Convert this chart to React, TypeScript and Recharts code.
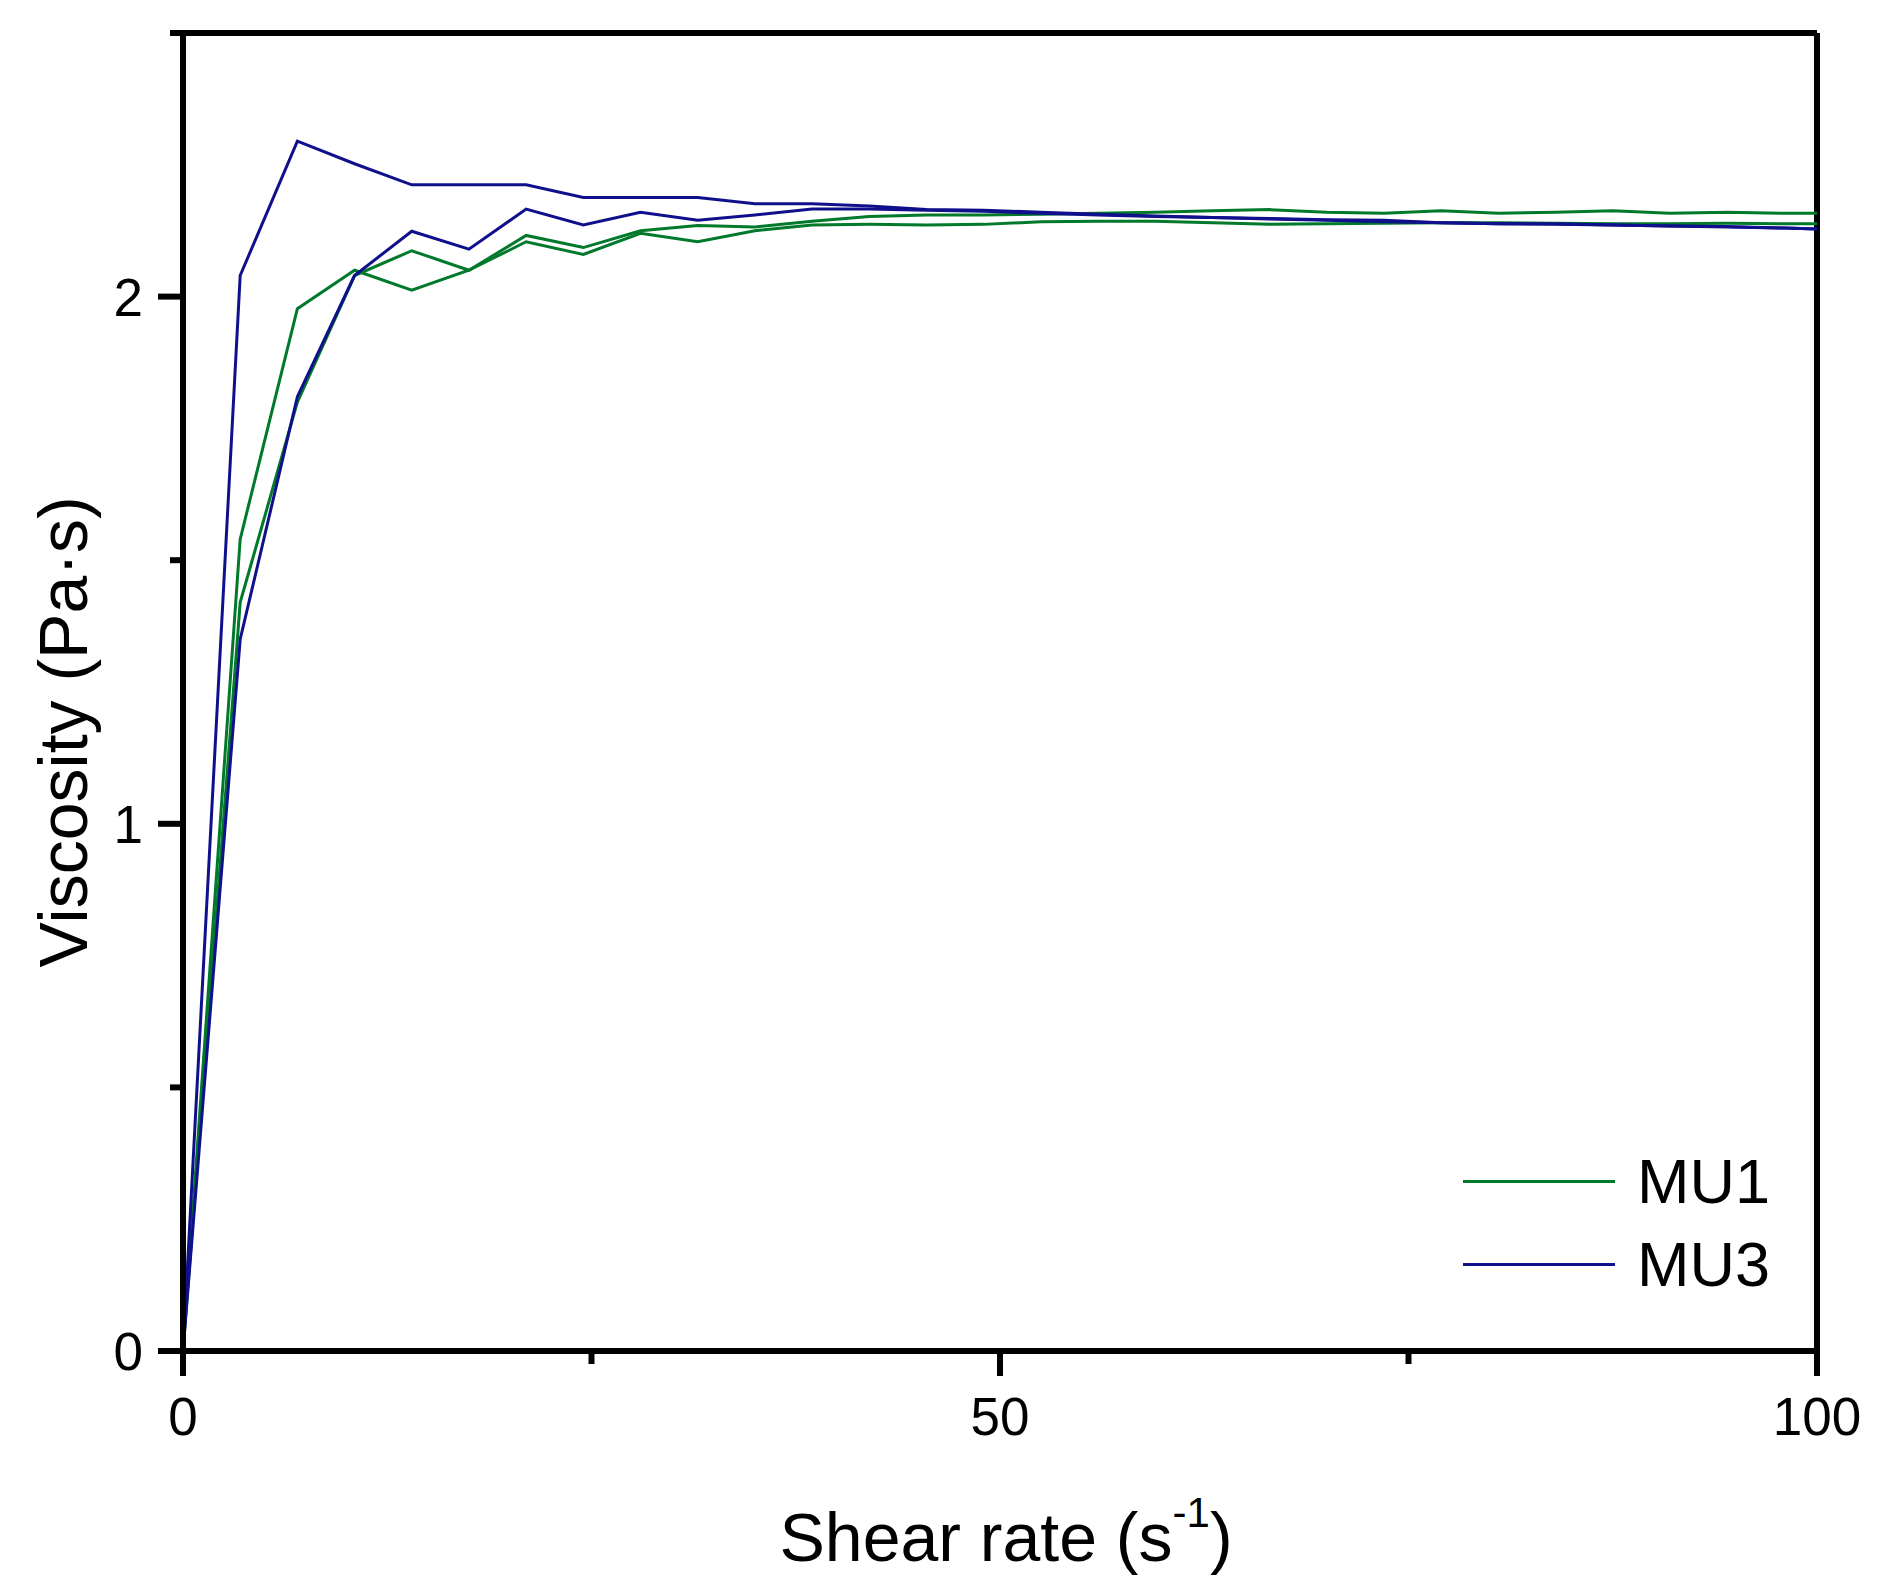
import { LineChart, Line, XAxis, YAxis, ReferenceLine, Label } from 'recharts';

// shear rate (1/s) at each measured point
const shearRate = [0, 3.5, 7, 10.5, 14, 17.5, 21, 24.5, 28, 31.5, 35, 38.5, 42, 45.5, 49, 52.5, 56, 59.5, 63, 66.5, 70, 73.5, 77, 80.5, 84, 87.5, 91, 94.5, 98, 100];

// viscosity (Pa·s), two runs per sample
const mu1RunA = [0, 1.54, 1.977, 2.05, 2.012, 2.05, 2.104, 2.08, 2.12, 2.104, 2.125, 2.136, 2.137, 2.136, 2.137, 2.142, 2.143, 2.143, 2.14, 2.137, 2.138, 2.139, 2.14, 2.14, 2.139, 2.138, 2.138, 2.139, 2.138, 2.138];
const mu1RunB = [0, 1.42, 1.8, 2.04, 2.087, 2.05, 2.116, 2.093, 2.125, 2.135, 2.132, 2.143, 2.152, 2.155, 2.155, 2.156, 2.158, 2.16, 2.163, 2.165, 2.16, 2.158, 2.163, 2.158, 2.16, 2.163, 2.158, 2.16, 2.158, 2.158];
const mu3RunA = [0, 2.04, 2.295, 2.252, 2.212, 2.212, 2.212, 2.188, 2.188, 2.188, 2.176, 2.176, 2.172, 2.165, 2.164, 2.16, 2.156, 2.153, 2.15, 2.148, 2.146, 2.145, 2.14, 2.138, 2.138, 2.136, 2.134, 2.133, 2.13, 2.128];
const mu3RunB = [0, 1.35, 1.81, 2.04, 2.124, 2.09, 2.166, 2.136, 2.16, 2.145, 2.155, 2.166, 2.166, 2.164, 2.162, 2.158, 2.155, 2.152, 2.15, 2.147, 2.145, 2.142, 2.14, 2.138, 2.137, 2.136, 2.134, 2.132, 2.13, 2.128];

const xTicks = [0, 25, 50, 75, 100];
const xLabelled = [0, 50, 100];
const yTicks = [0, 0.5, 1, 1.5, 2, 2.5];
const yLabelled = [0, 1, 2];

const GREEN = '#00792b';
const BLUE = '#10108c';
const legendItems = [
  { name: 'MU1', color: GREEN },
  { name: 'MU3', color: BLUE },
];

const FONT = '"Liberation Sans", Arial, sans-serif';

const data = shearRate.map((x, i) => ({
  x,
  mu1a: mu1RunA[i],
  mu1b: mu1RunB[i],
  mu3a: mu3RunA[i],
  mu3b: mu3RunB[i],
}));

function XTick(props: any) {
  const { x, y, payload } = props;
  const major = xLabelled.includes(payload.value);
  return (
    <g>
      <line x1={x} x2={x} y1={y} y2={y + (major ? 25 : 13)} stroke="#000" strokeWidth={6} />
      {major && (
        <text x={x} y={y + 84} textAnchor="middle" fontSize={53} fontFamily={FONT} fill="#000">
          {payload.value}
        </text>
      )}
    </g>
  );
}

function YTick(props: any) {
  const { x, y, payload } = props;
  const major = yLabelled.includes(payload.value);
  return (
    <g>
      <line x1={x} x2={x - (major ? 25 : 13)} y1={y} y2={y} stroke="#000" strokeWidth={6} />
      {major && (
        <text x={x - 40} y={y + 19} textAnchor="end" fontSize={53} fontFamily={FONT} fill="#000">
          {payload.value}
        </text>
      )}
    </g>
  );
}

function LegendBox() {
  return (
    <div style={{ position: 'absolute', left: 1463, top: 1140, fontFamily: FONT }}>
      {legendItems.map((item) => (
        <div key={item.name} style={{ display: 'flex', alignItems: 'center', height: 83 }}>
          <div style={{ width: 152, height: 3, background: item.color }} />
          <span style={{ marginLeft: 22, fontSize: 63, lineHeight: '83px', color: '#000' }}>{item.name}</span>
        </div>
      ))}
    </div>
  );
}

export default function App() {
  return (
    <div style={{ position: 'absolute', left: 0, top: 0, width: 1888, height: 1582, background: '#fff' }}>
      <LineChart width={1888} height={1582} data={data} margin={{ top: 33, right: 71, left: 0, bottom: 0 }}>
        <XAxis
          dataKey="x"
          type="number"
          domain={[0, 100]}
          ticks={xTicks}
          tickSize={0}
          tickMargin={0}
          tickLine={false}
          tick={<XTick />}
          height={231}
          axisLine={{ stroke: '#000', strokeWidth: 6 }}
          allowDataOverflow
        >
          <Label
            content={(p: any) => {
              const vb = p.viewBox;
              return (
                <text x={vb.x + vb.width / 2 + 6} y={vb.y + 210} textAnchor="middle" fontSize={68} fontFamily={FONT} fill="#000">
                  Shear rate (s
                  <tspan fontSize={42} dy={-34}>-1</tspan>
                  <tspan dy={34}>)</tspan>
                </text>
              );
            }}
          />
        </XAxis>
        <YAxis
          type="number"
          domain={[0, 2.5]}
          ticks={yTicks}
          tickSize={0}
          tickMargin={0}
          tickLine={false}
          tick={<YTick />}
          width={183}
          axisLine={{ stroke: '#000', strokeWidth: 6 }}
          allowDataOverflow
        >
          <Label
            content={(p: any) => {
              const vb = p.viewBox;
              const cx = vb.x + 63;
              const cy = vb.y + vb.height / 2 + 40;
              return (
                <text
                  x={cx}
                  y={cy}
                  transform={`rotate(-90 ${cx} ${cy})`}
                  textAnchor="middle"
                  dominantBaseline="central"
                  fontSize={68}
                  fontFamily={FONT}
                  fill="#000"
                >
                  Viscosity (Pa·s)
                </text>
              );
            }}
          />
        </YAxis>
        <ReferenceLine y={2.5} stroke="#000" strokeWidth={6} />
        <ReferenceLine x={100} stroke="#000" strokeWidth={6} />
        <Line dataKey="mu1a" stroke={GREEN} strokeWidth={3} dot={false} type="linear" isAnimationActive={false} />
        <Line dataKey="mu1b" stroke={GREEN} strokeWidth={3} dot={false} type="linear" isAnimationActive={false} />
        <Line dataKey="mu3a" stroke={BLUE} strokeWidth={3} dot={false} type="linear" isAnimationActive={false} />
        <Line dataKey="mu3b" stroke={BLUE} strokeWidth={3} dot={false} type="linear" isAnimationActive={false} />
      </LineChart>
      <LegendBox />
    </div>
  );
}
